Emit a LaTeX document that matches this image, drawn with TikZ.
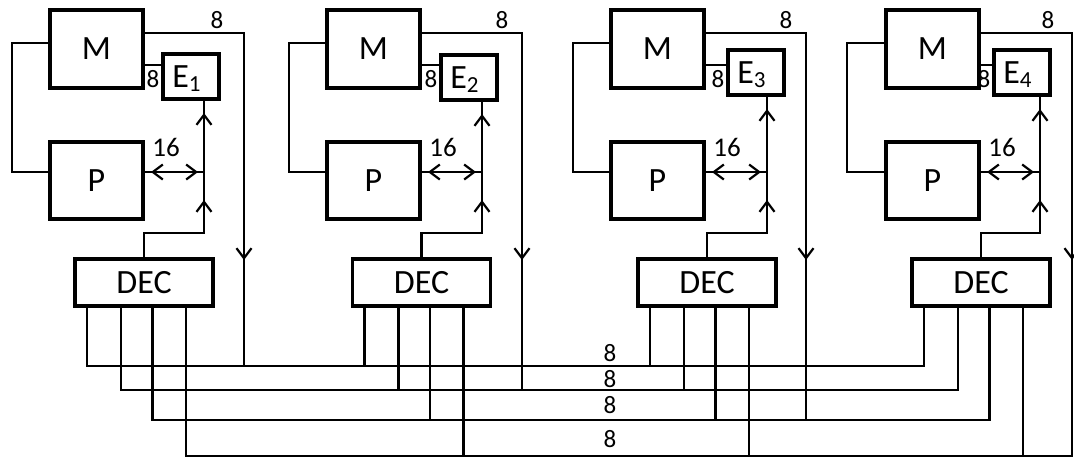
\documentclass[tikz,border=0pt]{standalone}
\usepackage{fontspec}
\setmainfont{Carlito}
\usetikzlibrary{arrows.meta,decorations.markings,calc}
\tikzset{
  vtip/.tip={Straight Barb[length=10pt,width=15pt]},
  wire/.style={line width=2.2pt,line cap=rect},
  box/.style={draw,line width=3.2pt,inner sep=0pt,outer sep=0pt,font=\fontsize{34}{34}\selectfont},
  lab/.style={inner sep=0pt,font=\fontsize{25}{25}\selectfont},
  upmarks/.style={postaction={decorate,decoration={markings,
     mark=at position 33pt with {\arrow{vtip}},
     mark=at position -14pt with {\arrow{vtip}}}}},
  dnmark/.style={postaction={decorate,decoration={markings,
     mark=at position #1 with {\arrow{vtip}}}}},
  bimarks/.style={postaction={decorate,decoration={markings,
     mark=at position 8pt with {\arrowreversed{vtip}},
     mark=at position -6pt with {\arrow{vtip}}}}},
}
\begin{document}
\begin{tikzpicture}[x=1pt,y=-1pt]
\useasboundingbox (0,0) rectangle (1074,459);
\coordinate (lvM) at (0,43);
\coordinate (lvO) at (0,33);
\coordinate (lvE) at (0,65);
\coordinate (lvP) at (0,172);
\coordinate (b1) at (0,366);
\coordinate (b2) at (0,390);
\coordinate (b3) at (0,420);
\coordinate (b4) at (0,456);
\foreach \i/\ml/\el/\et/\dc/\lx/\vx/\ax/\by/\ap/\tx in {
 1/50/163/54/144/12/204/244/366/106pt/217,
 2/327/441/55/421.5/289/482/522/390/130pt/502,
 3/611/728/50/707/573/767/806/420/160pt/786,
 4/886/994/50/981/847/1040/1072/456/196pt/1048}{
 \node[box,minimum width=93pt,minimum height=78pt,anchor=north west] (m\i) at (\ml,10) {M};
 \node[box,minimum width=93pt,minimum height=77pt,anchor=north west] (p\i) at (\ml,142) {P};
 \node[box,minimum width=56pt,minimum height=45pt,anchor=north west] (e\i) at (\el,\et)
   {E\raisebox{-4pt}[0pt][0pt]{\fontsize{23}{23}\selectfont\i}\kern9pt};
 \node[box,minimum width=138pt,minimum height=47pt] (d\i) at (\dc,282.5) {DEC};
 \coordinate (v\i) at (\vx,233);
 \coordinate (ae\i) at (\ax,\by);
 \draw[wire] (m\i.west |- lvM) -| (\lx,120) |- (p\i.west |- lvP);
 \draw[wire] (m\i.east |- lvE) -- (e\i.west |- lvE);
 \draw[wire,dnmark=-\ap] (m\i.east |- lvO) -| (ae\i);
 \draw[wire] (d\i.north) |- (v\i);
 \draw[wire,upmarks] (v\i) -- (v\i |- e\i.south);
 \draw[wire,bimarks] (p\i.east |- lvP) -- (v\i |- lvP);
 \node[lab] (tt\i) at (\tx,20) {8};
 \node[lab] (te\i) at (\el-10,79) {8};
 \node[lab,font=\fontsize{27}{27}\selectfont] (ts\i) at (\ml+116,147) {16};
}
\foreach \i in {1,...,4}{
  \foreach \k/\off in {1/12,2/46,3/77.5,4/111}{
    \coordinate (o\i\k) at ($(d\i.south west)+(\off,0)$);
  }
}
\foreach \k in {1,2,3}{\draw[wire] (o1\k) |- (o4\k |- b\k) -- (o4\k);}
\draw[wire] (o14) |- (ae4);
\foreach \i in {2,3}{\foreach \k in {1,2,3,4}{\draw[wire] (o\i\k) -- (o\i\k |- b\k);}}
\draw[wire] (o44) -- (o44 |- b4);
\foreach \k/\y in {1/353,2/379,3/405,4/439}{\node[lab] (bl\k) at (610,\y) {8};}
\end{tikzpicture}
\end{document}
